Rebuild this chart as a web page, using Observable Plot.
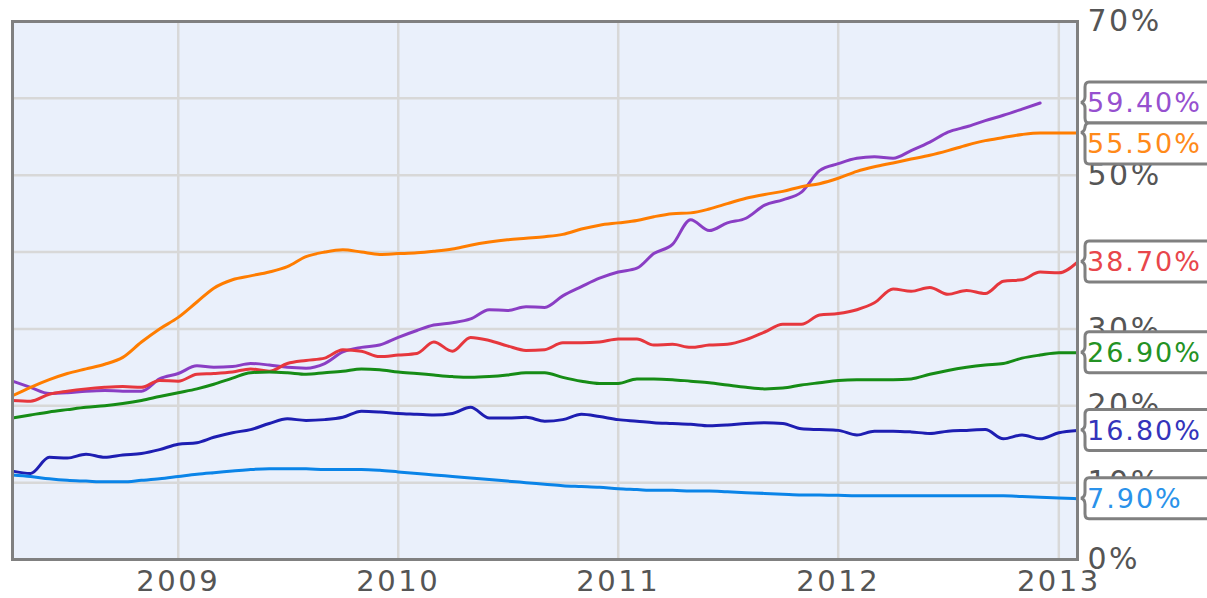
<!DOCTYPE html>
<html>
<head>
<meta charset="utf-8">
<script src="https://cdn.jsdelivr.net/npm/d3@7"></script>
<script src="https://cdn.jsdelivr.net/npm/@observablehq/plot@0.6"></script>
<style>
  html, body { margin: 0; padding: 0; background: #fff; }
</style>
</head>
<body>
<div id="chart"></div>
<script>
// Monthly dates: April 2008 through February 2013
const startMonth = "2008-04-01";
const endMonth = "2013-02-01";
const yTicks = [0, 10, 20, 30, 40, 50, 60, 70];
// 40% and 60% labels sit entirely under the end-value callouts in the reference
const yTickLabels = [0, 10, 20, 30, 50, 70];
const xTickYears = ["2009-01-01", "2010-01-01", "2011-01-01", "2012-01-01", "2013-01-01"];

const seriesNames = ["Series A", "Series B", "Series C", "Series D", "Series E", "Series F"];
const seriesColors = ["#8a3ec4", "#ff7d00", "#e6373d", "#168c16", "#1e1eb2", "#0a84e8"];
const labelColors = ["#9650cf", "#ff8a1a", "#e8464b", "#249224", "#3434bb", "#2a92ea"];
const endLabels = ["59.40%", "55.50%", "38.70%", "26.90%", "16.80%", "7.90%"];
const endValues = [59.4, 55.5, 38.7, 26.9, 16.8, 7.9];

const seriesA = [23.2,22.4,21.6,21.7,21.9,22.0,21.9,21.9,23.5,24.2,
  25.2,25.0,25.1,25.5,25.3,25.0,24.9,25.5,27.0,27.6,
  27.9,28.9,29.8,30.5,30.8,31.3,32.5,32.4,32.9,32.8,
  34.3,35.5,36.6,37.4,37.9,39.8,41.0,44.2,42.8,43.8,
  44.4,46.1,46.8,47.8,50.6,51.5,52.2,52.4,52.2,53.2,
  54.3,55.6,56.3,57.1,57.8,58.6,59.4];
const seriesB = [21.3,22.4,23.4,24.2,24.8,25.4,26.3,28.3,30.0,31.5,
  33.5,35.3,36.4,36.9,37.4,38.1,39.4,40.0,40.3,40.0,
  39.7,39.8,39.9,40.1,40.4,40.9,41.3,41.6,41.8,42.0,
  42.3,43.0,43.5,43.8,44.1,44.6,45.0,45.1,45.6,46.3,
  47.0,47.5,47.9,48.5,48.9,49.6,50.5,51.1,51.6,52.1,
  52.6,53.2,53.9,54.5,54.9,55.3,55.5,55.5,55.5];
const seriesC = [20.7,20.6,21.5,21.9,22.2,22.4,22.5,22.4,23.3,23.2,
  24.1,24.2,24.4,24.8,24.5,25.5,25.9,26.2,27.3,27.1,
  26.4,26.6,26.8,28.3,27.1,28.9,28.5,27.8,27.2,27.3,
  28.2,28.2,28.3,28.7,28.7,27.9,28.0,27.6,27.9,28.0,
  28.6,29.6,30.6,30.6,31.8,32.0,32.5,33.4,35.2,34.9,
  35.4,34.5,35.0,34.6,36.2,36.4,37.4,37.3,38.7];
const seriesD = [18.4,18.8,19.2,19.5,19.8,20.0,20.3,20.7,21.2,21.7,
  22.2,22.8,23.6,24.3,24.4,24.3,24.1,24.3,24.5,24.8,
  24.7,24.4,24.2,24.0,23.8,23.7,23.8,24.0,24.3,24.3,
  23.7,23.2,22.9,22.9,23.5,23.5,23.4,23.2,23.0,22.7,
  22.4,22.2,22.3,22.7,23.0,23.3,23.4,23.4,23.4,23.5,
  24.1,24.6,25.0,25.3,25.5,26.2,26.6,26.9,26.9];
const seriesE = [11.5,11.2,13.3,13.2,13.7,13.3,13.6,13.8,14.3,15.0,
  15.2,15.9,16.5,16.9,17.7,18.3,18.1,18.2,18.5,19.3,
  19.2,19.0,18.9,18.8,19.0,19.8,18.4,18.4,18.5,18.0,
  18.2,18.9,18.6,18.2,18.0,17.8,17.7,17.6,17.4,17.5,
  17.7,17.8,17.7,17.0,16.9,16.8,16.2,16.7,16.7,16.6,
  16.4,16.7,16.8,16.9,15.7,16.2,15.7,16.5,16.8];
const seriesF = [11.0,10.8,10.5,10.3,10.2,10.1,10.1,10.3,10.5,10.8,
  11.1,11.3,11.5,11.7,11.8,11.8,11.8,11.7,11.7,11.7,
  11.6,11.4,11.2,11.0,10.8,10.6,10.4,10.2,10.0,9.8,
  9.6,9.5,9.4,9.2,9.1,9.0,9.0,8.9,8.9,8.8,
  8.7,8.6,8.5,8.4,8.4,8.35,8.3,8.3,8.3,8.3,
  8.3,8.3,8.3,8.3,8.3,8.2,8.1,8.0,7.9];

const seriesValues = [seriesA, seriesB, seriesC, seriesD, seriesE, seriesF];
const months = d3.utcMonth.range(new Date(startMonth), d3.utcDay.offset(new Date(endMonth), 1));

const rows = [];
seriesNames.forEach((name, s) => {
  seriesValues[s].forEach((v, i) => rows.push({series: name, date: months[i], value: v}));
});
const lastPoints = seriesNames.map((name, s) => ({
  series: name, date: months[seriesValues[s].length - 1], value: endValues[s],
  label: endLabels[s], color: labelColors[s]
}));

const W = 1207, H = 598;
const mLeft = 12, mRight = 130, mTop = 21, mBottom = 39;

// custom mark: end-value callout boxes positioned with the plot's y scale
function endCallouts(index, scales, values, dimensions) {
  const g = d3.create("svg:g");
  const boxH = 41;
  const tipX = dimensions.width - dimensions.marginRight + 4;
  const bx = tipX + 4;
  const items = lastPoints.map(d => ({...d, ty: scales.y(d.value)})).sort((a, b) => a.ty - b.ty);
  let prev = -Infinity;
  for (const it of items) {
    it.cy = Math.max(it.ty, prev + boxH);
    prev = it.cy;
  }
  for (const it of items) {
    const top = it.cy - boxH / 2, bot = it.cy + boxH / 2;
    const tip = Math.max(top + 9, Math.min(bot - 9, it.ty));
    const path = `M${W + 5},${top} H${bx + 4} Q${bx},${top} ${bx},${top + 5} V${tip - 6} Q${bx},${tip - 1} ${tipX},${tip} Q${bx},${tip + 1} ${bx},${tip + 6} V${bot - 5} Q${bx},${bot} ${bx + 4},${bot} H${W + 5}`;
    g.append("path").attr("d", path).attr("fill", "#fff").attr("stroke", "#808080").attr("stroke-width", 3);
    g.append("text").attr("x", bx + 2).attr("y", it.cy).attr("dy", "0.36em")
      .attr("text-anchor", "start").attr("letter-spacing", "2px")
      .attr("font-size", 27).attr("fill", it.color).text(it.label);
  }
  return g.node();
}

const chart = Plot.plot({
  width: W,
  height: H,
  marginLeft: mLeft,
  marginRight: mRight,
  marginTop: mTop,
  marginBottom: mBottom,
  style: {fontFamily: "'DejaVu Sans', Verdana, sans-serif", color: "#555", background: "#fff", letterSpacing: "2.5px"},
  x: {type: "utc", domain: [new Date(startMonth), new Date(endMonth)]},
  y: {domain: [0, 70]},
  color: {domain: seriesNames, range: seriesColors},
  marks: [
    Plot.frame({fill: "#eaf0fb", stroke: null}),
    Plot.gridX(xTickYears.map(d => new Date(d)), {stroke: "#d8d8d8", strokeOpacity: 1, strokeWidth: 2.5}),
    Plot.gridY(yTicks, {stroke: "#d8d8d8", strokeOpacity: 1, strokeWidth: 2.5}),
    Plot.line(rows, {x: "date", y: "value", z: "series", stroke: "series", strokeWidth: 3, curve: "monotone-x"}),
    Plot.frame({stroke: "#808080", strokeWidth: 3}),
    Plot.axisY({anchor: "right", ticks: yTickLabels, tickFormat: d => d + "%", tickSize: 0, tickPadding: 10, fontSize: 30, label: null}),
    Plot.axisX({ticks: xTickYears.map(d => new Date(d)), tickFormat: d3.utcFormat("%Y"), tickSize: 0, tickPadding: 11, fontSize: 29, label: null}),
    endCallouts
  ]
});
document.getElementById("chart").appendChild(chart);
</script>
</body>
</html>
